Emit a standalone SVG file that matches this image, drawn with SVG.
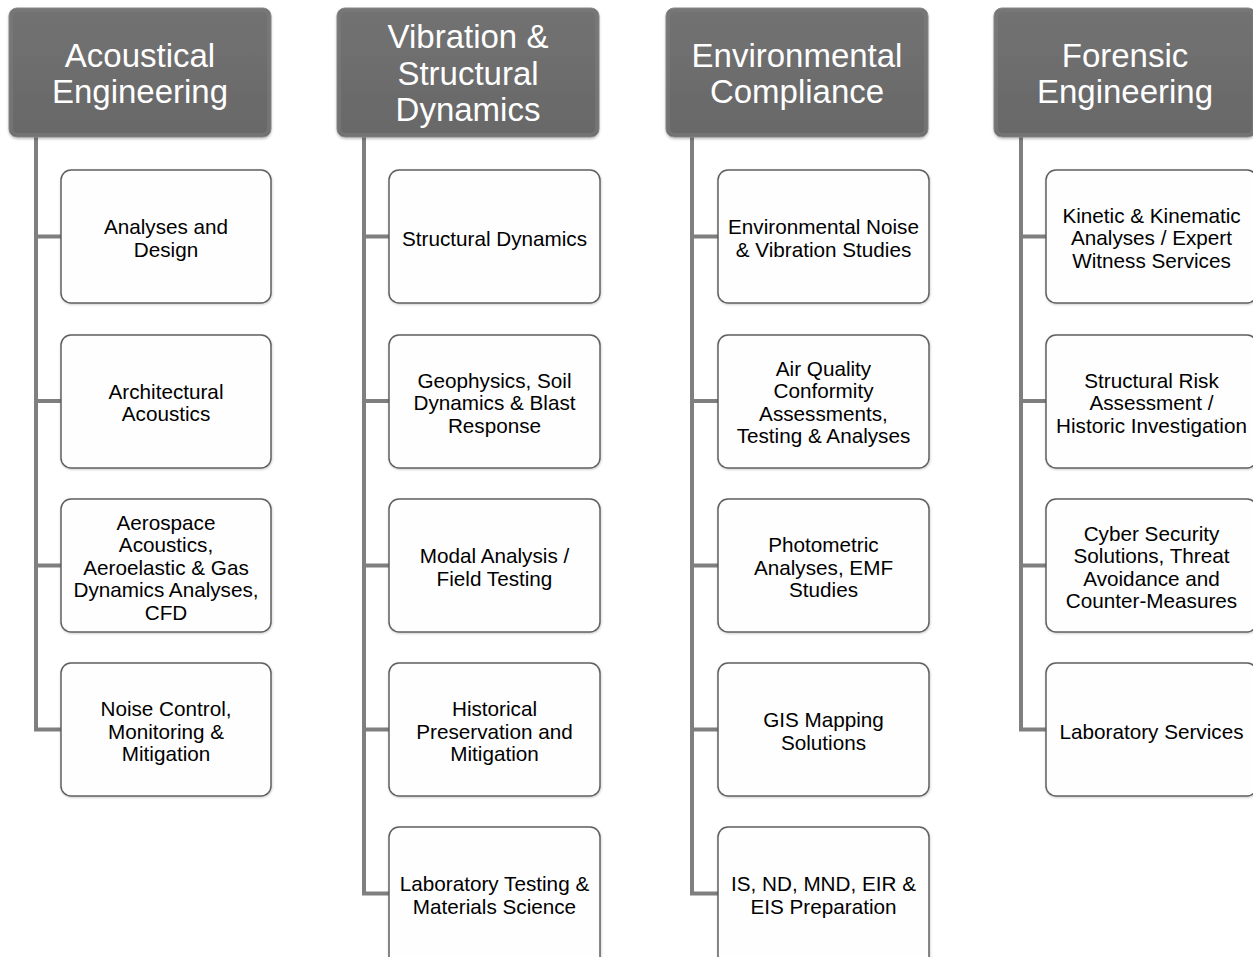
<svg xmlns="http://www.w3.org/2000/svg" width="1253" height="957" viewBox="0 0 1253 957">
<defs>
<linearGradient id="hdr" x1="0" y1="0" x2="0" y2="1">
<stop offset="0" stop-color="#727272"/>
<stop offset="1" stop-color="#686868"/>
</linearGradient>
<filter id="sh" x="-5%" y="-5%" width="110%" height="115%">
<feDropShadow dx="0" dy="1.5" stdDeviation="1.2" flood-color="#000" flood-opacity="0.25"/>
</filter>
<filter id="sh2" x="-5%" y="-5%" width="110%" height="115%">
<feDropShadow dx="0.5" dy="1" stdDeviation="0.8" flood-color="#000" flood-opacity="0.2"/>
</filter>
</defs>
<style>
.hdr{fill:url(#hdr);stroke:#8a8a8a;stroke-width:1;filter:url(#sh)}
.bev{fill:none;stroke:#7c7c7c;stroke-width:3;opacity:0.6}
.ht{font-family:"Liberation Sans",Arial,sans-serif;font-size:33px;fill:#ffffff;text-anchor:middle}
.bx{fill:#fefefe;stroke:#606060;stroke-width:1.5;filter:url(#sh2)}
.bt{font-family:"Liberation Sans",Arial,sans-serif;font-size:20.7px;fill:#000000;text-anchor:middle}
.cn{fill:none;stroke:#7f7f7f;stroke-width:4;stroke-linejoin:miter}
</style>
<rect width="1253" height="957" fill="#ffffff"/>

<g id="connectors">
<path class="cn" d="M36,137 V729.5 H61 M36,236.5 H61 M36,401 H61 M36,565.5 H61"/>
<path class="cn" d="M364,137 V893.5 H389 M364,236.5 H389 M364,401 H389 M364,565.5 H389 M364,729.5 H389"/>
<path class="cn" d="M692,137 V893.5 H718 M692,236.5 H718 M692,401 H718 M692,565.5 H718 M692,729.5 H718"/>
<path class="cn" d="M1021,137 V729.5 H1046 M1021,236.5 H1046 M1021,401 H1046 M1021,565.5 H1046"/>
</g>

<!-- Column 1 -->
<g id="h1">
<rect class="hdr" x="9" y="8" width="262" height="129" rx="8"/>
<rect class="bev" x="11.5" y="10.5" width="257" height="124" rx="6"/>
<text class="ht" x="140" y="66.5">Acoustical</text>
<text class="ht" x="140" y="103">Engineering</text>
</g>
<g id="c1n1">
<rect class="bx" x="61" y="170" width="210" height="133" rx="10"/>
<text class="bt" x="166" y="234">Analyses and</text>
<text class="bt" x="166" y="256.5">Design</text>
</g>
<g id="c1n2">
<rect class="bx" x="61" y="335" width="210" height="133" rx="10"/>
<text class="bt" x="166" y="398.5">Architectural</text>
<text class="bt" x="166" y="421">Acoustics</text>
</g>
<g id="c1n3">
<rect class="bx" x="61" y="499" width="210" height="133" rx="10"/>
<text class="bt" x="166" y="529.5">Aerospace</text>
<text class="bt" x="166" y="552">Acoustics,</text>
<text class="bt" x="166" y="574.5">Aeroelastic &amp; Gas</text>
<text class="bt" x="166" y="597">Dynamics Analyses,</text>
<text class="bt" x="166" y="619.5">CFD</text>
</g>
<g id="c1n4">
<rect class="bx" x="61" y="663" width="210" height="133" rx="10"/>
<text class="bt" x="166" y="716">Noise Control,</text>
<text class="bt" x="166" y="738.5">Monitoring &amp;</text>
<text class="bt" x="166" y="761">Mitigation</text>
</g>

<!-- Column 2 -->
<g id="h2">
<rect class="hdr" x="337" y="8" width="262" height="129" rx="8"/>
<rect class="bev" x="339.5" y="10.5" width="257" height="124" rx="6"/>
<text class="ht" x="468" y="48">Vibration &amp;</text>
<text class="ht" x="468" y="84.5">Structural</text>
<text class="ht" x="468" y="121">Dynamics</text>
</g>
<g id="c2n1">
<rect class="bx" x="389" y="170" width="211" height="133" rx="10"/>
<text class="bt" x="494.5" y="245.5">Structural Dynamics</text>
</g>
<g id="c2n2">
<rect class="bx" x="389" y="335" width="211" height="133" rx="10"/>
<text class="bt" x="494.5" y="387.5">Geophysics, Soil</text>
<text class="bt" x="494.5" y="410">Dynamics &amp; Blast</text>
<text class="bt" x="494.5" y="432.5">Response</text>
</g>
<g id="c2n3">
<rect class="bx" x="389" y="499" width="211" height="133" rx="10"/>
<text class="bt" x="494.5" y="563">Modal Analysis /</text>
<text class="bt" x="494.5" y="585.5">Field Testing</text>
</g>
<g id="c2n4">
<rect class="bx" x="389" y="663" width="211" height="133" rx="10"/>
<text class="bt" x="494.5" y="716">Historical</text>
<text class="bt" x="494.5" y="738.5">Preservation and</text>
<text class="bt" x="494.5" y="761">Mitigation</text>
</g>
<g id="c2n5">
<rect class="bx" x="389" y="827" width="211" height="140" rx="10"/>
<text class="bt" x="494.5" y="891">Laboratory Testing &amp;</text>
<text class="bt" x="494.5" y="913.5">Materials Science</text>
</g>

<!-- Column 3 -->
<g id="h3">
<rect class="hdr" x="666" y="8" width="262" height="129" rx="8"/>
<rect class="bev" x="668.5" y="10.5" width="257" height="124" rx="6"/>
<text class="ht" x="797" y="66.5">Environmental</text>
<text class="ht" x="797" y="103">Compliance</text>
</g>
<g id="c3n1">
<rect class="bx" x="718" y="170" width="211" height="133" rx="10"/>
<text class="bt" x="823.5" y="234">Environmental Noise</text>
<text class="bt" x="823.5" y="256.5">&amp; Vibration Studies</text>
</g>
<g id="c3n2">
<rect class="bx" x="718" y="335" width="211" height="133" rx="10"/>
<text class="bt" x="823.5" y="375.5">Air Quality</text>
<text class="bt" x="823.5" y="398">Conformity</text>
<text class="bt" x="823.5" y="420.5">Assessments,</text>
<text class="bt" x="823.5" y="443">Testing &amp; Analyses</text>
</g>
<g id="c3n3">
<rect class="bx" x="718" y="499" width="211" height="133" rx="10"/>
<text class="bt" x="823.5" y="552">Photometric</text>
<text class="bt" x="823.5" y="574.5">Analyses, EMF</text>
<text class="bt" x="823.5" y="597">Studies</text>
</g>
<g id="c3n4">
<rect class="bx" x="718" y="663" width="211" height="133" rx="10"/>
<text class="bt" x="823.5" y="727">GIS Mapping</text>
<text class="bt" x="823.5" y="749.5">Solutions</text>
</g>
<g id="c3n5">
<rect class="bx" x="718" y="827" width="211" height="140" rx="10"/>
<text class="bt" x="823.5" y="891">IS, ND, MND, EIR &amp;</text>
<text class="bt" x="823.5" y="913.5">EIS Preparation</text>
</g>

<!-- Column 4 -->
<g id="h4">
<rect class="hdr" x="994" y="8" width="262" height="129" rx="8"/>
<rect class="bev" x="996.5" y="10.5" width="257" height="124" rx="6"/>
<text class="ht" x="1125" y="66.5">Forensic</text>
<text class="ht" x="1125" y="103">Engineering</text>
</g>
<g id="c4n1">
<rect class="bx" x="1046" y="170" width="211" height="133" rx="10"/>
<text class="bt" x="1151.5" y="222.5">Kinetic &amp; Kinematic</text>
<text class="bt" x="1151.5" y="245">Analyses / Expert</text>
<text class="bt" x="1151.5" y="267.5">Witness Services</text>
</g>
<g id="c4n2">
<rect class="bx" x="1046" y="335" width="211" height="133" rx="10"/>
<text class="bt" x="1151.5" y="387.5">Structural Risk</text>
<text class="bt" x="1151.5" y="410">Assessment /</text>
<text class="bt" x="1151.5" y="432.5">Historic Investigation</text>
</g>
<g id="c4n3">
<rect class="bx" x="1046" y="499" width="211" height="133" rx="10"/>
<text class="bt" x="1151.5" y="540.5">Cyber Security</text>
<text class="bt" x="1151.5" y="563">Solutions, Threat</text>
<text class="bt" x="1151.5" y="585.5">Avoidance and</text>
<text class="bt" x="1151.5" y="608">Counter-Measures</text>
</g>
<g id="c4n4">
<rect class="bx" x="1046" y="663" width="211" height="133" rx="10"/>
<text class="bt" x="1151.5" y="738.5">Laboratory Services</text>
</g>
</svg>
